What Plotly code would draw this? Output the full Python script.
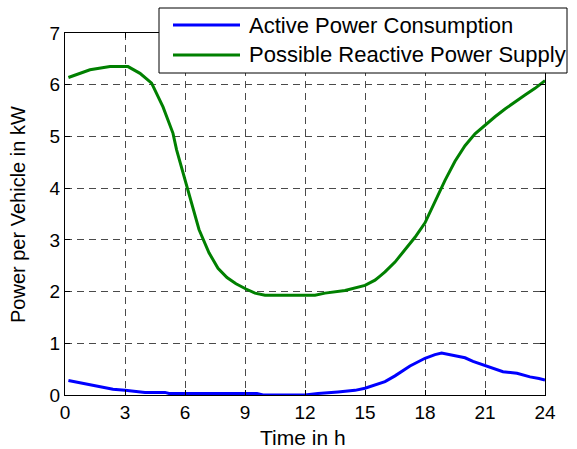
import plotly.graph_objects as go

# Data
t_green = [0.17, 0.7, 1.25, 2.25, 3.15, 3.75, 4.33, 4.9, 5.4, 5.58, 6.25, 6.7, 7.2, 7.65, 8.1, 8.55, 9.05, 9.5,
           10, 11, 12, 12.5, 13, 14, 15, 15.5, 15.75, 16, 16.5, 17, 17.5, 18, 18.5, 19, 19.5, 20, 20.5, 21,
           21.5, 22, 22.5, 23, 23.5, 24]
reactive = [6.14, 6.22, 6.29, 6.35, 6.35, 6.22, 6.03, 5.57, 5.06, 4.74, 3.8, 3.2, 2.75, 2.45, 2.27, 2.15, 2.05,
            1.97, 1.93, 1.93, 1.93, 1.93, 1.97, 2.02, 2.12, 2.22, 2.3, 2.38, 2.57, 2.8, 3.05, 3.33, 3.75, 4.15,
            4.52, 4.82, 5.05, 5.22, 5.38, 5.53, 5.67, 5.8, 5.93, 6.08]
t_blue = [0.17, 0.6, 1.08, 1.75, 2.4, 3, 3.75, 4.0, 5.0, 5.2, 9.6, 9.9, 12.0, 12.65, 13.65, 14.5, 15, 16, 16.5,
          17.25, 18, 18.5, 18.83, 19.4, 20, 20.4, 21.1, 21.9, 22.6, 23.25, 23.7, 24]
active = [0.28, 0.25, 0.21, 0.16, 0.11, 0.09, 0.07, 0.05, 0.05, 0.03, 0.03, 0.0, 0.0, 0.03, 0.06, 0.09, 0.13,
          0.26, 0.37, 0.56, 0.71, 0.78, 0.81, 0.77, 0.72, 0.65, 0.55, 0.45, 0.42, 0.35, 0.32, 0.29]
series_names = ["Active Power Consumption", "Possible Reactive Power Supply"]
series_colors = ["#0000FF", "#008000"]
x_ticks = [0, 3, 6, 9, 12, 15, 18, 21, 24]
y_ticks = [0, 1, 2, 3, 4, 5, 6, 7]
x_title = "Time in h"
y_title = "Power per Vehicle in kW"

FONT = "Liberation Sans, Arial, sans-serif"

fig = go.Figure()
fig.add_trace(go.Scatter(x=t_blue, y=active, mode="lines", name=series_names[0],
                         line=dict(color=series_colors[0], width=3), showlegend=False))
fig.add_trace(go.Scatter(x=t_green, y=reactive, mode="lines", name=series_names[1],
                         line=dict(color=series_colors[1], width=3), showlegend=False))

axis_common = dict(showline=True, linecolor="black", linewidth=1, mirror="ticks",
                   ticks="inside", ticklen=5, tickcolor="black",
                   showgrid=True, gridcolor="#4a4a4a", griddash="7px,5px", gridwidth=1,
                   zeroline=False, ticklabeloverflow="allow",
                   tickfont=dict(family=FONT, size=19, color="black"))

fig.update_xaxes(range=[0, 24], tickvals=x_ticks, ticktext=[str(v) for v in x_ticks], **axis_common)
fig.update_yaxes(range=[0, 7], tickvals=y_ticks, ticktext=[str(v) for v in y_ticks], **axis_common)

L, R, T, B = 65, 545, 33, 395
W, H = R - L, B - T
def px(x):
    return (x - L) / W
def py(y):
    return (B - y) / H

# Axis titles
fig.add_annotation(xref="paper", yref="paper", x=px(303), y=py(437), text=x_title, showarrow=False,
                   xanchor="center", yanchor="middle", font=dict(family=FONT, size=21, color="black"))
fig.add_annotation(xref="paper", yref="paper", x=px(18), y=py(215), text=y_title, showarrow=False,
                   textangle=-90, xanchor="center", yanchor="middle",
                   font=dict(family=FONT, size=20, color="black"))

# Manual legend box
fig.add_shape(type="rect", xref="paper", yref="paper", x0=px(159), x1=px(567), y0=py(73), y1=py(8),
              line=dict(color="black", width=1), fillcolor="white", layer="above")
for i, (nm, col) in enumerate(zip(series_names, series_colors)):
    yy = 25 + i * 30
    fig.add_shape(type="line", xref="paper", yref="paper", x0=px(173), x1=px(240), y0=py(yy), y1=py(yy),
                  line=dict(color=col, width=3), layer="above")
    fig.add_annotation(xref="paper", yref="paper", x=px(247), y=py(yy), text=nm, showarrow=False,
                       xanchor="left", yanchor="middle", font=dict(family=FONT, size=22, color="black"))

fig.update_layout(width=577, height=449, margin=dict(l=L, r=577 - R, t=T, b=449 - B),
                  paper_bgcolor="white", plot_bgcolor="white", showlegend=False)

fig.write_html("out.html")
